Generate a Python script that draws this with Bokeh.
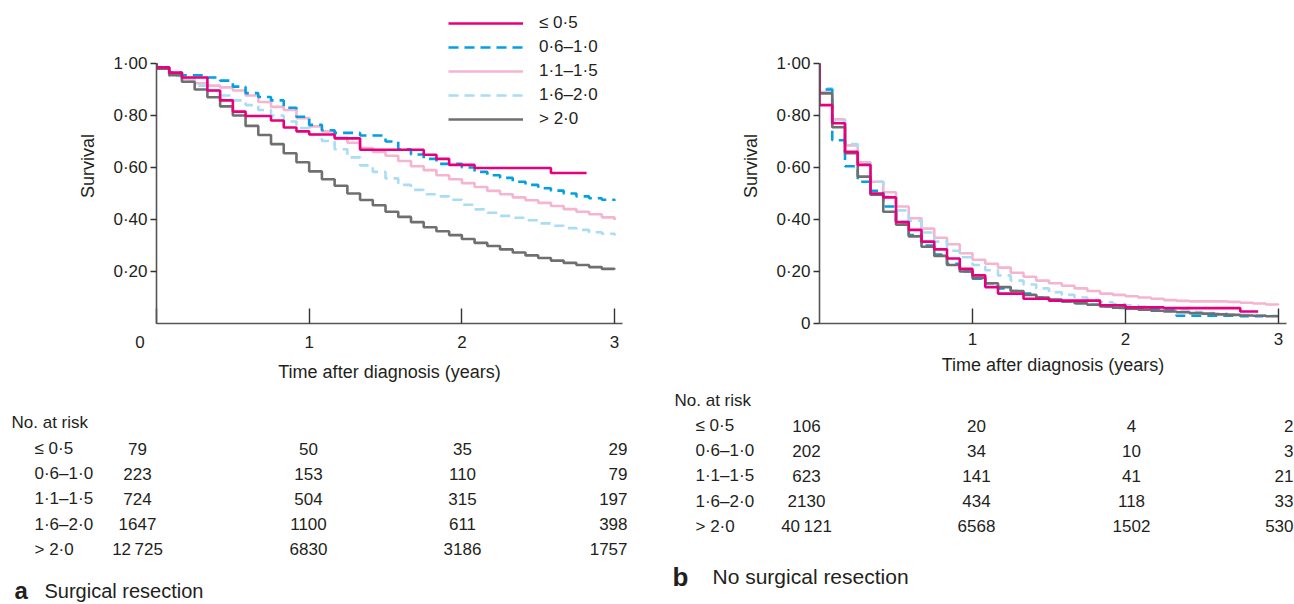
from bokeh.plotting import figure
from bokeh.models import Range1d, FixedTicker, CustomJSTickFormatter, Legend, LegendItem, ColumnDataSource
from bokeh.layouts import row, column
from bokeh.embed import file_html
from bokeh.resources import INLINE
from bokeh.core.properties import value

# ---------------- data ----------------
GROUPS = ["\u2264 0\u00b75", "0\u00b76\u20131\u00b70", "1\u00b71\u20131\u00b75", "1\u00b76\u20132\u00b70", "> 2\u00b70"]
COLORS = ["#E6007E", "#00A0E3", "#F5B4CF", "#A9DDF3", "#6F6F71"]
DASHES = ["solid", "10 6", "solid", "10 6", "solid"]
DRAW_ORDER = [2, 3, 1, 4, 0]

MONTHS = [0, 1, 2, 3, 4, 5, 6, 7, 8, 9, 10, 11, 12, 13, 14, 15, 16, 17, 18,
          19, 20, 21, 22, 23, 24, 25, 26, 27, 28, 29, 30, 31, 32, 33, 34, 35, 36]

# a: surgical resection -- step times (months) and survival
SR_LE05_T = [0, 1, 2, 4, 5, 6, 7, 9, 10, 11, 12, 14, 16, 21, 22, 23, 25, 31, 33.8]
SR_LE05_S = [0.985, 0.965, 0.946, 0.896, 0.858, 0.815, 0.798, 0.781, 0.754, 0.739, 0.727,
             0.712, 0.668, 0.649, 0.633, 0.61, 0.598, 0.579, 0.579]
SR_0610_S = [0.985, 0.965, 0.955, 0.955, 0.946, 0.934, 0.911, 0.886, 0.871, 0.858, 0.83, 0.795,
             0.764, 0.743, 0.733, 0.733, 0.723, 0.723, 0.70, 0.67, 0.65, 0.633, 0.614, 0.614,
             0.60, 0.583, 0.57, 0.56, 0.545, 0.533, 0.52, 0.511, 0.50, 0.489, 0.482, 0.476, 0.472]
SR_1115_S = [0.985, 0.958, 0.94, 0.924, 0.915, 0.908, 0.896, 0.877, 0.852, 0.833, 0.821, 0.79,
             0.758, 0.739, 0.714, 0.695, 0.675, 0.66, 0.645, 0.625, 0.605, 0.59, 0.57, 0.555,
             0.54, 0.525, 0.51, 0.497, 0.485, 0.474, 0.464, 0.452, 0.44, 0.43, 0.42, 0.408, 0.398]
SR_1620_S = [0.985, 0.952, 0.934, 0.915, 0.896, 0.877, 0.858, 0.84, 0.821, 0.80, 0.777, 0.752,
             0.727, 0.702, 0.67, 0.639, 0.608, 0.583, 0.558, 0.533, 0.514, 0.497, 0.489, 0.476,
             0.457, 0.439, 0.426, 0.414, 0.407, 0.397, 0.385, 0.376, 0.367, 0.36, 0.351, 0.345, 0.338]
SR_GT20_S = [0.98, 0.955, 0.93, 0.90, 0.87, 0.835, 0.80, 0.76, 0.725, 0.69, 0.655, 0.62,
             0.585, 0.555, 0.53, 0.50, 0.475, 0.455, 0.43, 0.41, 0.39, 0.37, 0.355, 0.34,
             0.325, 0.31, 0.298, 0.285, 0.273, 0.262, 0.252, 0.242, 0.233, 0.225, 0.217, 0.21, 0.208]

# b: no surgical resection
NS_LE05_T = [0, 1, 2, 3, 4, 5, 6, 7, 8, 9, 10, 11, 12, 13, 14, 15, 16, 17, 18, 19, 20, 21,
             22, 23, 24, 25, 26, 27, 28, 29, 30, 31, 32, 33, 34.4]
NS_LE05_S = [0.84, 0.77, 0.66, 0.61, 0.50, 0.485, 0.39, 0.36, 0.315, 0.285, 0.25, 0.21,
             0.185, 0.14, 0.115, 0.115, 0.095, 0.095, 0.088, 0.088, 0.088, 0.088, 0.07, 0.07,
             0.062, 0.062, 0.062, 0.059, 0.059, 0.059, 0.059, 0.059, 0.059, 0.046, 0.046]
NS_0610_T = [0, 1, 2, 3, 4, 5, 6, 7, 8, 9, 10, 11, 12, 13, 14, 15, 16, 17, 18, 19, 20, 21,
             22, 23, 24, 25, 26, 27, 28, 29, 30, 31, 32, 33, 34, 34.8]
NS_0610_S = [0.90, 0.705, 0.605, 0.545, 0.51, 0.45, 0.39, 0.34, 0.30, 0.265, 0.23, 0.20,
             0.172, 0.155, 0.135, 0.125, 0.115, 0.10, 0.09, 0.085, 0.078, 0.072, 0.066, 0.06,
             0.06, 0.055, 0.055, 0.05, 0.03, 0.03, 0.03, 0.03, 0.03, 0.028, 0.028, 0.028]
NS_1115_S = [0.89, 0.785, 0.685, 0.62, 0.545, 0.505, 0.45, 0.405, 0.365, 0.33, 0.305, 0.27,
             0.245, 0.23, 0.215, 0.195, 0.18, 0.165, 0.155, 0.145, 0.135, 0.125, 0.115, 0.11,
             0.105, 0.10, 0.095, 0.09, 0.087, 0.085, 0.085, 0.085, 0.083, 0.08, 0.077, 0.073, 0.072]
NS_1620_S = [0.905, 0.78, 0.69, 0.615, 0.545, 0.49, 0.435, 0.395, 0.35, 0.315, 0.28, 0.255,
             0.225, 0.205, 0.185, 0.165, 0.15, 0.135, 0.12, 0.11, 0.10, 0.09, 0.082, 0.075,
             0.07, 0.065, 0.06, 0.055, 0.05, 0.045, 0.04, 0.038, 0.035, 0.033, 0.032, 0.03, 0.03]
NS_GT20_S = [0.885, 0.755, 0.655, 0.565, 0.495, 0.43, 0.38, 0.335, 0.295, 0.26, 0.225, 0.20,
             0.175, 0.155, 0.14, 0.125, 0.11, 0.10, 0.092, 0.085, 0.078, 0.072, 0.066, 0.061,
             0.057, 0.053, 0.049, 0.046, 0.043, 0.04, 0.038, 0.035, 0.033, 0.031, 0.03, 0.028, 0.028]

# numbers at risk (columns: 0, 1, 2, 3 years)
SR_RISK = [[79, 50, 35, 29], [223, 153, 110, 79], [724, 504, 315, 197],
           [1647, 1100, 611, 398], [12725, 6830, 3186, 1757]]
NS_RISK = [[106, 20, 4, 2], [202, 34, 10, 3], [623, 141, 41, 21],
           [2130, 434, 118, 33], [40121, 6568, 1502, 530]]

SR_SERIES = [(SR_LE05_T, SR_LE05_S), (MONTHS, SR_0610_S), (MONTHS, SR_1115_S),
             (MONTHS, SR_1620_S), (MONTHS, SR_GT20_S)]
NS_SERIES = [(NS_LE05_T, NS_LE05_S), (NS_0610_T, NS_0610_S), (MONTHS, NS_1115_S),
             (MONTHS, NS_1620_S), (MONTHS, NS_GT20_S)]

FONT = "Liberation Sans"
TXT = "#231F20"
AX = "#555555"
Y_TOP = 1.2115
X_END = 3.052


def km_figure(width, border_left, border_right, series, x_ticks, with_legend, y_ticks):
    p = figure(width=width, height=390, x_range=Range1d(0, X_END), y_range=Range1d(0, Y_TOP),
               output_backend="svg", toolbar_location=None,
               min_border_left=border_left, min_border_right=border_right,
               min_border_top=8, min_border_bottom=67, frame_align=False)
    p.outline_line_color = None
    p.xgrid.visible = False
    p.ygrid.visible = False
    p.background_fill_color = "white"
    p.border_fill_color = "white"

    renderers = {}
    for gi in DRAW_ORDER:
        t, s = series[gi]
        src = ColumnDataSource(dict(x=[0.0] + [m / 12.0 for m in t], y=[1.0] + list(s)))
        r = p.step("x", "y", source=src, mode="after", line_color=COLORS[gi], line_width=2.6,
                   line_dash=DASHES[gi])
        renderers[gi] = r

    xa = p.xaxis[0]
    xa.ticker = FixedTicker(ticks=x_ticks)
    xa.formatter = CustomJSTickFormatter(
        code="return tick == 0 ? '0' + '\\u00a0'.repeat(7) : tick.toFixed(0);")
    xa.bounds = (0, X_END)
    xa.axis_label = "Time after diagnosis (years)"
    xa.major_tick_in = 15
    xa.major_tick_out = 0
    xa.minor_tick_in = 0
    xa.minor_tick_out = 0
    xa.major_label_standoff = 9
    xa.axis_label_standoff = 7

    ya = p.yaxis[0]
    ya.ticker = FixedTicker(ticks=y_ticks)
    ya.formatter = CustomJSTickFormatter(
        code="return tick == 0 ? '0' : tick.toFixed(2).replace('.', '\\u00b7');")
    ya.bounds = (0, 1.0)
    ya.axis_label = "Survival"
    ya.major_tick_in = 0
    ya.major_tick_out = 6
    ya.minor_tick_in = 0
    ya.minor_tick_out = 0
    ya.major_label_standoff = 3
    ya.axis_label_standoff = 12

    for a in (xa, ya):
        a.axis_line_color = AX
        a.axis_line_width = 1.6
        a.major_tick_line_color = "#333333"
        a.major_tick_line_width = 1.4
        a.major_label_text_font = FONT
        a.major_label_text_font_size = "17px"
        a.major_label_text_color = TXT
        a.axis_label_text_font = FONT
        a.axis_label_text_font_size = "18px"
        a.axis_label_text_font_style = "normal"
        a.axis_label_text_color = TXT

    if with_legend:
        items = [LegendItem(label=GROUPS[gi], renderers=[renderers[gi]]) for gi in range(5)]
        leg = Legend(items=items, location=(292, 192), orientation="vertical",
                     glyph_width=75, glyph_height=24, label_height=24, spacing=0,
                     padding=0, margin=0, label_standoff=16,
                     label_text_font=FONT, label_text_font_size="17px",
                     label_text_color=TXT, background_fill_alpha=0, border_line_alpha=0)
        p.add_layout(leg)
    return p


def fmt(n):
    s = str(n)
    if n >= 10000:
        s = s[:-3] + "\u2009" + s[-3:]
    return s


def table_figure(width, risk, head_x, head_y, label_x, row_y0, row_dy, cols, letter, caption,
                 letter_x, cap_x, cap_y, letter_fs, cap_fs):
    h = 214
    p = figure(width=width, height=h, x_range=Range1d(0, width), y_range=Range1d(h, 0),
               output_backend="svg", toolbar_location=None, min_border=0, frame_align=False)
    p.axis.visible = False
    p.grid.visible = False
    p.outline_line_color = None
    p.background_fill_color = "white"
    p.border_fill_color = "white"
    fs = "17px"
    p.text(x=[head_x], y=[head_y], text=["No. at risk"], text_font=value(FONT),
           text_font_size=fs, text_color=TXT, text_baseline="middle", text_align="left")
    ys = [row_y0 + i * row_dy for i in range(len(GROUPS))]
    p.text(x=[label_x] * 5, y=ys, text=GROUPS, text_font=value(FONT), text_font_size=fs,
           text_color=TXT, text_baseline="middle", text_align="left")
    for ci, (cx, al) in enumerate(cols):
        p.text(x=[cx] * 5, y=ys, text=[fmt(r[ci]) for r in risk], text_font=value(FONT),
               text_font_size=fs, text_color=TXT, text_baseline="middle", text_align=al)
    p.text(x=[letter_x], y=[cap_y], text=[letter], text_font=value(FONT),
           text_font_size=letter_fs, text_font_style="bold", text_color=TXT,
           text_baseline="middle", text_align="left")
    p.text(x=[cap_x], y=[cap_y], text=[caption], text_font=value(FONT), text_font_size=cap_fs,
           text_color=TXT, text_baseline="middle", text_align="left")
    return p


pa = km_figure(650, 156, 28, SR_SERIES, [0, 1, 2, 3], True, [0.2, 0.4, 0.6, 0.8, 1.0])
pb = km_figure(644, 169, 8, NS_SERIES, [1, 2, 3], False, [0, 0.2, 0.4, 0.6, 0.8, 1.0])

ta = table_figure(650, SR_RISK, 11, 32, 34, 58, 25.2,
                  [(137, "center"), (308, "center"), (462, "center"), (627, "right")],
                  "a", "Surgical resection", 14, 44, 200, "24px", "20px")
tb = table_figure(644, NS_RISK, 24, 10, 45, 35, 25.2,
                  [(156, "center"), (326, "center"), (481, "center"), (643, "right")],
                  "b", "No surgical resection", 22, 62, 186, "26px", "21px")

layout = row(column(pa, ta), column(pb, tb))
open("out.html", "w").write(file_html(layout, INLINE))
